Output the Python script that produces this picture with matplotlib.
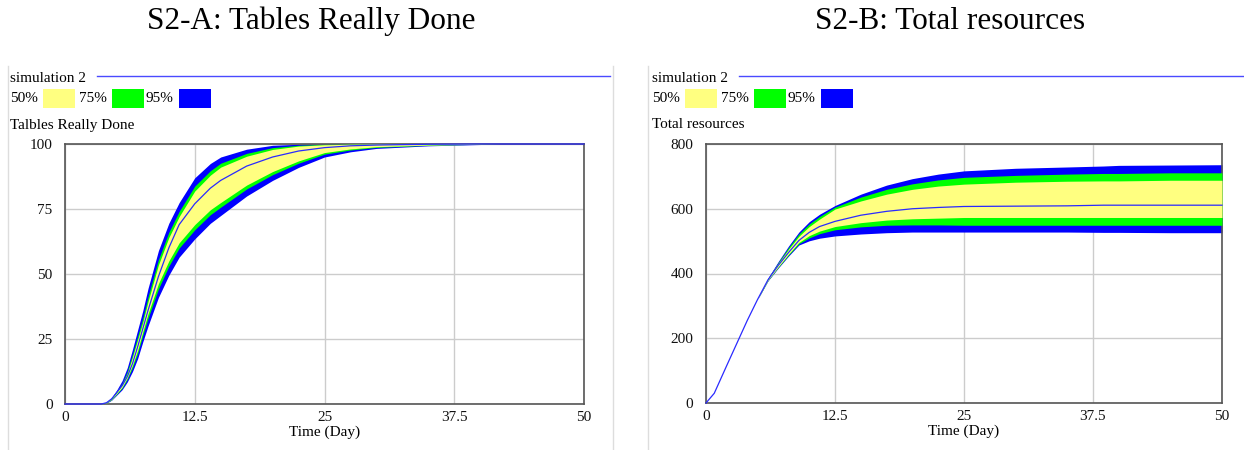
import matplotlib
matplotlib.use("Agg")
import matplotlib.pyplot as plt
from matplotlib.patches import Rectangle
from matplotlib.lines import Line2D

plt.rcParams['font.family'] = ['Liberation Serif', 'DejaVu Serif']

# ---- data: S2-A Tables Really Done ----
t_a = [0, 3.5, 4, 4.5, 5, 5.5, 6, 6.5, 7, 7.5, 8, 9, 10, 11, 12.5, 14, 15,
       17.5, 20, 22.5, 25, 27.5, 30, 35, 40, 42, 50]
med_a = [0, 0, 0.5, 2, 4.5, 7, 10.5, 15.5, 22, 29, 36, 49, 60, 69, 77, 83, 86,
         91.5, 95, 97.3, 98.6, 99.3, 99.6, 99.9, 100, 100, 100]
hi95_a = [0, 0, 0.6, 2.5, 5.5, 9, 14, 21, 28.5, 36, 44.5, 59, 69.5, 77.5, 87, 92.5, 95,
          98, 99.5, 99.9, 100, 100, 100, 100, 100, 100, 100]
hi75_a = [0, 0, 0.5, 2.2, 4.9, 8, 12.5, 19, 26, 33, 41.2, 55.5, 66, 74.1, 83.8, 89.7, 92.6,
          96.4, 98.6, 99.5, 99.85, 99.95, 100, 100, 100, 100, 100]
hi50_a = [0, 0, 0.5, 2.0, 4.5, 7.5, 11.7, 18, 24.7, 31.5, 39.4, 53.5, 64, 72.1, 81.9, 88, 91.1,
          95.3, 97.9, 99.2, 99.7, 99.9, 100, 100, 100, 100, 100]
lo50_a = [0, 0, 0.4, 1.8, 4.1, 6.5, 10.1, 14.9, 20.7, 27.9, 34.7, 46.3, 55, 62, 69, 74.7, 77.5,
          84.2, 89.4, 93.5, 96.7, 98.1, 98.95, 99.6, 99.9, 100, 100]
lo75_a = [0, 0, 0.35, 1.7, 3.9, 6.1, 9.5, 14, 19.5, 26.5, 33, 44.3, 53, 60, 67, 72.8, 75.7,
          82.7, 88.2, 92.6, 96.1, 97.7, 98.7, 99.5, 99.9, 100, 100]
lo95_a = [0, 0, 0.3, 1.5, 3.5, 5.5, 8.5, 12.5, 17.5, 24, 30, 41, 49.5, 56.5, 63.5, 69.5, 72.5,
          80, 86, 91, 95, 97, 98.3, 99.3, 99.8, 100, 100]

# ---- data: S2-B Total resources ----
t_b = [0, 0.8, 2, 3, 4, 5, 6, 7, 8, 9, 10, 11, 12.5, 15, 17.5, 20, 22.5, 25,
       30, 35, 38.5, 40, 45, 50]
med_b = [0, 30, 115, 185, 255, 320, 380, 425, 465, 502, 527, 545, 561, 580, 592, 600, 604, 607,
         608, 609, 611, 611, 611, 611]
hi95_b = [0, 30, 115, 185, 255, 320, 386, 437, 485, 528, 560, 583, 610, 645, 673, 693, 707, 717,
          725, 729, 732, 734, 735, 736]
hi75_b = [0, 30, 115, 185, 255, 320, 385, 434, 480, 522, 553, 576, 605, 636, 660, 677, 689, 697,
          703, 707, 709, 709, 711, 711]
hi50_b = [0, 30, 115, 185, 255, 320, 384, 431, 475, 515, 545, 568, 599, 624, 645, 660, 670, 676,
          682, 685, 686, 686, 688, 688]
lo50_b = [0, 30, 115, 185, 255, 320, 379, 421, 460, 496, 517, 531, 545, 557, 565, 569, 571, 573,
          573, 573, 573, 573, 573, 573]
lo75_b = [0, 30, 115, 185, 255, 320, 378, 419, 457, 492, 510, 523, 535, 544, 549, 550, 550, 549,
          549, 549, 549, 549, 549, 549]
lo95_b = [0, 30, 115, 185, 255, 320, 377, 417, 454, 488, 501, 509, 516, 522, 526, 528, 528, 528,
          528, 528, 527, 527, 526, 526]

x_ticks = [0, 12.5, 25, 37.5, 50]
x_labels = ["0", "12.5", "25", "37.5", "50"]
yticks_a = [0, 25, 50, 75, 100]
yticks_b = [0, 200, 400, 600, 800]

YELLOW = '#ffff80'
GREEN = '#00ff00'
BLUE = '#0000ff'
MED = '#2a2aff'

W, H = 1244, 450


def fx(px):
    return px / W


def fy(py):
    return 1 - py / H


fig = plt.figure(figsize=(W / 100, H / 100), dpi=100)


def draw_panel(rect, t, med, bands, ymax, yticks, varname, title, x0, title_x):
    ax = fig.add_axes(rect)
    lo95, lo75, lo50, hi50, hi75, hi95 = bands
    ax.fill_between(t, lo95, hi95, color=BLUE, lw=0, zorder=2, clip_on=False)
    ax.fill_between(t, lo75, hi75, color=GREEN, lw=0, zorder=3, clip_on=False)
    ax.fill_between(t, lo50, hi50, color=YELLOW, lw=0, zorder=4, clip_on=False)
    ax.plot(t, med, color=MED, lw=0.9, zorder=5, clip_on=False)
    ax.set_xlim(0, 50)
    ax.set_ylim(0, ymax)
    ax.set_xticks(x_ticks)
    ax.set_xticklabels(x_labels)
    ax.set_yticks(yticks)
    ax.grid(True, color='#cccccc', lw=1.0, zorder=0)
    ax.set_axisbelow(True)
    ax.tick_params(length=0, labelsize=11, colors='#111111')
    ax.tick_params(axis='y', pad=9)
    ax.tick_params(axis='x', pad=5)
    for s in ax.spines.values():
        s.set_color('#555555')
        s.set_linewidth(1.2)
    ax.set_xlabel('Time (Day)', fontsize=11, labelpad=1)

    # title above the screenshot
    fig.text(fx(title_x), fy(29), title, fontsize=22.5, ha='center', va='baseline')

    # Vensim-style header
    fig.text(fx(x0), fy(78), 'simulation 2', fontsize=11, va='center')
    fig.add_artist(Line2D([fx(x0 + 87), fx(x0 + 600)], [fy(76), fy(76)],
                          color='#4a4aff', lw=1.0))
    labels = [('50%', YELLOW, 0), ('75%', GREEN, 69), ('95%', BLUE, 136)]
    for lab, col, off in labels:
        fig.text(fx(x0 + off), fy(98), lab, fontsize=11, va='center')
        fig.add_artist(Rectangle((fx(x0 + off + 33), fy(108)), 32 / W, 19 / H,
                                 facecolor=col, edgecolor='none'))
    fig.text(fx(x0), fy(125), varname, fontsize=11, va='center')
    return ax


draw_panel([fx(65), fy(404), (584 - 65) / W, (404 - 144) / H],
           t_a, med_a, (lo95_a, lo75_a, lo50_a, hi50_a, hi75_a, hi95_a),
           100, yticks_a, 'Talbles Really Done', 'S2-A: Tables Really Done', 10, 311)

draw_panel([fx(706), fy(403), (1222 - 706) / W, (403 - 144) / H],
           t_b, med_b, (lo95_b, lo75_b, lo50_b, hi50_b, hi75_b, hi95_b),
           800, yticks_b, 'Total resources', 'S2-B: Total resources', 652, 950)

# faint screenshot borders
for xb in [8, 613, 648]:
    fig.add_artist(Line2D([fx(xb), fx(xb)], [fy(66), fy(450)], color='#dddddd', lw=1.0))

fig.savefig('out.png', dpi=100)
